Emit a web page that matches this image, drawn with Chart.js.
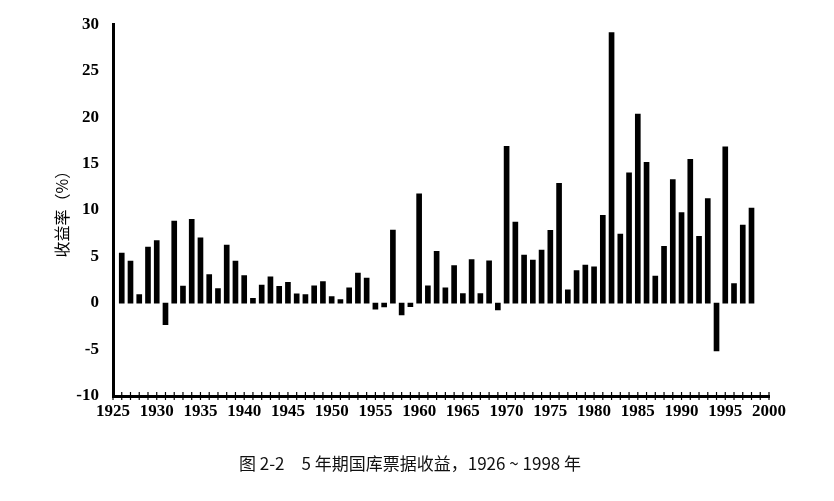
<!DOCTYPE html>
<html>
<head>
<meta charset="utf-8">
<script src="https://cdn.jsdelivr.net/npm/chart.js@4"></script>
<style>
  html, body { margin: 0; padding: 0; background: #fff; }
  #wrap { position: relative; width: 834px; height: 501px; }
  #caption {
    position: absolute; left: 0; width: 820px; top: 450px;
    text-align: center; font-family: "Noto Sans CJK SC", serif;
    font-size: 17px; color: #111;
  }
</style>
</head>
<body>
<div id="wrap">
  <canvas id="chart" width="834" height="501"></canvas>
  <div id="caption">图 2-2　5 年期国库票据收益，1926 ~ 1998 年</div>
</div>
<script>
// years shown on the chart
const years = [
  1926, 1927, 1928, 1929, 1930, 1931, 1932, 1933, 1934, 1935,
  1936, 1937, 1938, 1939, 1940, 1941, 1942, 1943, 1944, 1945,
  1946, 1947, 1948, 1949, 1950, 1951, 1952, 1953, 1954, 1955,
  1956, 1957, 1958, 1959, 1960, 1961, 1962, 1963, 1964, 1965,
  1966, 1967, 1968, 1969, 1970, 1971, 1972, 1973, 1974, 1975,
  1976, 1977, 1978, 1979, 1980, 1981, 1982, 1983, 1984, 1985,
  1986, 1987, 1988, 1989, 1990, 1991, 1992, 1993, 1994, 1995,
  1996, 1997, 1998
];

// yearly return (%)
const returns = [
  5.38, 4.52, 0.92, 6.01, 6.72, -2.32, 8.81, 1.83, 9.00, 7.01,
  3.06, 1.56, 6.23, 4.52, 2.96, 0.50, 1.94, 2.81, 1.80, 2.22,
  1.00, 0.91, 1.85, 2.32, 0.70, 0.36, 1.63, 3.23, 2.68, -0.65,
  -0.42, 7.84, -1.29, -0.39, 11.76, 1.85, 5.56, 1.64, 4.04, 1.02,
  4.69, 1.01, 4.54, -0.74, 16.86, 8.72, 5.16, 4.61, 5.69, 7.83,
  12.87, 1.41, 3.49, 4.09, 3.91, 9.45, 29.10, 7.41, 14.02, 20.33,
  15.14, 2.90, 6.10, 13.29, 9.73, 15.46, 7.19, 11.24, -5.14, 16.80,
  2.10, 8.38, 10.21
];

const yTicks = [-10, -5, 0, 5, 10, 15, 20, 25, 30];
const xTicks = [1925, 1930, 1935, 1940, 1945, 1950, 1955, 1960, 1965, 1970, 1975, 1980, 1985, 1990, 1995, 2000];

const serifBold = { family: '"Liberation Serif", "Times New Roman", serif', size: 17, weight: 'bold' };

// small year ticks crossing the x axis line
const yearTicks = {
  id: 'yearTicks',
  afterDraw(chart) {
    const ctx = chart.ctx;
    const x = chart.scales.x;
    const bottom = chart.chartArea.bottom;
    ctx.save();
    ctx.strokeStyle = '#000';
    ctx.lineWidth = 1.2;
    for (let yr = xTicks[0]; yr <= xTicks[xTicks.length - 1]; yr++) {
      const px = x.getPixelForValue(yr);
      ctx.beginPath();
      ctx.moveTo(px, bottom - 4);
      ctx.lineTo(px, bottom + 4);
      ctx.stroke();
    }
    ctx.restore();
  }
};

new Chart(document.getElementById('chart'), {
  type: 'bar',
  data: {
    datasets: [{
      data: years.map((yr, i) => ({ x: yr, y: returns[i] })),
      backgroundColor: '#000',
      barThickness: 5
    }]
  },
  options: {
    responsive: false,
    animation: false,
    devicePixelRatio: 1,
    layout: { padding: { left: 50, right: 65, top: 22, bottom: 75 } },
    plugins: { legend: { display: false }, tooltip: { enabled: false } },
    scales: {
      x: {
        type: 'linear',
        min: 1925,
        max: 2000,
        offset: false,
        afterBuildTicks: s => { s.ticks = xTicks.map(v => ({ value: v })); },
        ticks: {
          color: '#000', font: serifBold, padding: 5, maxRotation: 0, autoSkip: false,
          callback: v => String(v)
        },
        grid: { display: false, drawTicks: false, offset: false },
        border: { display: true, color: '#000', width: 3 },
        afterFit: s => { s.height = 30; }
      },
      y: {
        min: -10,
        max: 30,
        afterBuildTicks: s => { s.ticks = yTicks.map(v => ({ value: v })); },
        ticks: { color: '#000', font: serifBold, padding: 14 },
        grid: { display: false, drawTicks: false },
        border: { display: true, color: '#000', width: 3 },
        title: {
          display: true,
          text: '收益率（%）',
          color: '#000',
          font: { family: '"Noto Sans CJK SC", sans-serif', size: 16 },
          padding: { top: 2, bottom: 0 }
        },
        afterFit: s => { s.width = 63; }
      }
    }
  },
  plugins: [yearTicks]
});
</script>
</body>
</html>
